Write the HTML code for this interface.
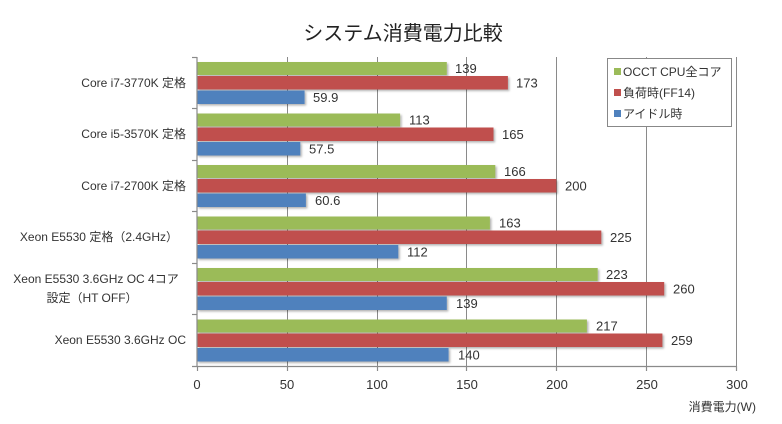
<!DOCTYPE html>
<html><head><meta charset="utf-8"><style>
html,body{margin:0;padding:0;background:#fff;}
svg{display:block;font-family:"Liberation Sans","Noto Sans CJK JP",sans-serif;}
</style></head><body>
<svg width="782" height="424" viewBox="0 0 782 424" xmlns="http://www.w3.org/2000/svg">
<defs><filter id="sh" x="-5%" y="-20%" width="110%" height="160%"><feDropShadow dx="1.5" dy="1.5" stdDeviation="1" flood-color="#000" flood-opacity="0.3"/></filter></defs>
<rect width="782" height="424" fill="#fff"/>
<text x="403" y="40" font-size="20" text-anchor="middle" fill="#222">システム消費電力比較</text>
<g stroke="#8a8a8a" stroke-width="1">
<line x1="287.5" y1="57" x2="287.5" y2="366"/>
<line x1="377.5" y1="57" x2="377.5" y2="366"/>
<line x1="466.5" y1="57" x2="466.5" y2="366"/>
<line x1="556.5" y1="57" x2="556.5" y2="366"/>
<line x1="646.5" y1="57" x2="646.5" y2="366"/>
<line x1="736.5" y1="57" x2="736.5" y2="366"/>
</g>
<g filter="url(#sh)">
<rect x="197" y="62" width="249.8" height="13" fill="#9bbb59"/>
<rect x="197" y="76" width="310.9" height="13.5" fill="#c0504d"/>
<rect x="197" y="90.5" width="107.6" height="13.5" fill="#4f81bd"/>
<rect x="197" y="113.5" width="203.1" height="13" fill="#9bbb59"/>
<rect x="197" y="127.5" width="296.5" height="13.5" fill="#c0504d"/>
<rect x="197" y="142" width="103.3" height="13.5" fill="#4f81bd"/>
<rect x="197" y="165" width="298.3" height="13" fill="#9bbb59"/>
<rect x="197" y="179" width="359.4" height="13.5" fill="#c0504d"/>
<rect x="197" y="193.5" width="108.9" height="13.5" fill="#4f81bd"/>
<rect x="197" y="216.5" width="292.9" height="13" fill="#9bbb59"/>
<rect x="197" y="230.5" width="404.3" height="13.5" fill="#c0504d"/>
<rect x="197" y="245" width="201.3" height="13.5" fill="#4f81bd"/>
<rect x="197" y="268" width="400.7" height="13" fill="#9bbb59"/>
<rect x="197" y="282" width="467.2" height="13.5" fill="#c0504d"/>
<rect x="197" y="296.5" width="249.8" height="13.5" fill="#4f81bd"/>
<rect x="197" y="319.5" width="389.9" height="13" fill="#9bbb59"/>
<rect x="197" y="333.5" width="465.4" height="13.5" fill="#c0504d"/>
<rect x="197" y="348" width="251.6" height="13.5" fill="#4f81bd"/>
</g>
<g font-size="13" fill="#333">
<text x="455" y="73">139</text><text x="516" y="87.5">173</text><text x="313" y="102">59.9</text>
<text x="409" y="124.5">113</text><text x="502" y="139">165</text><text x="309" y="153.5">57.5</text>
<text x="504" y="176">166</text><text x="565" y="190.5">200</text><text x="315" y="205">60.6</text>
<text x="499" y="227.5">163</text><text x="610" y="242">225</text><text x="407" y="256.5">112</text>
<text x="606" y="279">223</text><text x="673" y="293.5">260</text><text x="456" y="308">139</text>
<text x="596" y="330.5">217</text><text x="671" y="345">259</text><text x="458" y="359.5">140</text>
</g>
<g stroke="#8a8a8a" stroke-width="1.2">
<line x1="197" y1="57" x2="197" y2="367"/>
<line x1="192" y1="366.5" x2="737" y2="366.5"/>
<line x1="192" y1="57.5" x2="197" y2="57.5"/>
<line x1="192" y1="108.5" x2="197" y2="108.5"/>
<line x1="192" y1="160.5" x2="197" y2="160.5"/>
<line x1="192" y1="211.5" x2="197" y2="211.5"/>
<line x1="192" y1="263.5" x2="197" y2="263.5"/>
<line x1="192" y1="314.5" x2="197" y2="314.5"/>
<line x1="197.5" y1="366" x2="197.5" y2="371"/>
<line x1="287.5" y1="366" x2="287.5" y2="371"/>
<line x1="377.5" y1="366" x2="377.5" y2="371"/>
<line x1="466.5" y1="366" x2="466.5" y2="371"/>
<line x1="556.5" y1="366" x2="556.5" y2="371"/>
<line x1="646.5" y1="366" x2="646.5" y2="371"/>
<line x1="736.5" y1="366" x2="736.5" y2="371"/>
</g>
<g font-size="12" fill="#333" text-anchor="end">
<text x="186" y="87">Core i7-3770K 定格</text>
<text x="186" y="138">Core i5-3570K 定格</text>
<text x="186" y="190">Core i7-2700K 定格</text>
<text x="178" y="241">Xeon E5530 定格（2.4GHz）</text>
<text x="186" y="344">Xeon E5530 3.6GHz OC</text>
</g>
<g font-size="12" fill="#333" text-anchor="middle">
<text x="96" y="283">Xeon E5530 3.6GHz OC 4コア</text>
<text x="92" y="302">設定（HT OFF）</text>
</g>
<g font-size="13" fill="#333" text-anchor="middle">
<text x="197" y="389">0</text><text x="287" y="389">50</text><text x="377" y="389">100</text>
<text x="467" y="389">150</text><text x="557" y="389">200</text><text x="647" y="389">250</text><text x="737" y="389">300</text>
</g>
<text x="756" y="411" font-size="12" fill="#333" text-anchor="end">消費電力(W)</text>
<rect x="607.5" y="58.5" width="124" height="68" fill="#fff" stroke="#888" stroke-width="1"/>
<rect x="614" y="68" width="7" height="7" fill="#9bbb59"/>
<rect x="614" y="89" width="7" height="7" fill="#c0504d"/>
<rect x="614" y="110" width="7" height="7" fill="#4f81bd"/>
<g font-size="12" fill="#333">
<text x="623" y="76">OCCT CPU全コア</text>
<text x="623" y="97">負荷時(FF14)</text>
<text x="623" y="118">アイドル時</text>
</g>
</svg>
</body></html>
